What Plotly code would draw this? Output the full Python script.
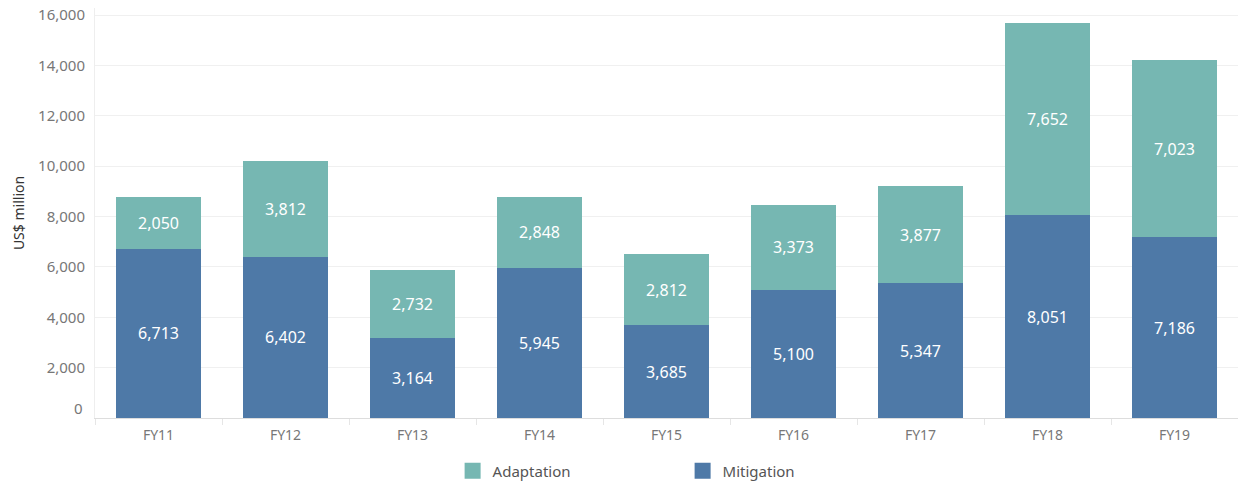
import plotly.graph_objects as go

years = ["FY11", "FY12", "FY13", "FY14", "FY15", "FY16", "FY17", "FY18", "FY19"]
mitigation = [6713, 6402, 3164, 5945, 3685, 5100, 5347, 8051, 7186]
adaptation = [2050, 3812, 2732, 2848, 2812, 3373, 3877, 7652, 7023]
y_ticks = list(range(0, 16001, 2000))

FONT = "Noto Sans"
C_MIT = "#4E79A7"
C_ADA = "#76B7B2"

fig = go.Figure()
fig.add_trace(go.Bar(
    x=years, y=mitigation, name="Mitigation", marker=dict(color=C_MIT, line=dict(width=0)),
    text=[f"{v:,}" for v in mitigation], textposition="inside",
    insidetextanchor="middle", textfont=dict(color="white", size=16, family=FONT),
    showlegend=False,
))
fig.add_trace(go.Bar(
    x=years, y=adaptation, name="Adaptation", marker=dict(color=C_ADA, line=dict(width=0)),
    text=[f"{v:,}" for v in adaptation], textposition="inside",
    insidetextanchor="middle", textfont=dict(color="white", size=16, family=FONT),
    showlegend=False,
))
# legend entries with larger square swatches
for name, col in [("Adaptation", C_ADA), ("Mitigation", C_MIT)]:
    fig.add_trace(go.Scatter(
        x=[None], y=[None], mode="markers", name=name,
        marker=dict(symbol="square", size=17, color=col), hoverinfo="skip",
    ))

fig.update_layout(
    width=1238, height=483,
    barmode="stack", bargap=0.335,
    plot_bgcolor="white", paper_bgcolor="white",
    margin=dict(l=95, r=0, t=8, b=65, autoexpand=False),
    font=dict(family=FONT, color="#777777", size=14),
    uniformtext=dict(mode="show", minsize=10),
    legend=dict(
        orientation="h", traceorder="normal",
        xref="container", x=0.3656, xanchor="left",
        yref="container", y=0.0248, yanchor="middle",
        entrywidth=185, entrywidthmode="pixels", itemsizing="trace",
        font=dict(size=15, color="#555555", family=FONT),
    ),
    xaxis=dict(
        showgrid=False, ticks="outside", tickson="boundaries", ticklen=6,
        tickcolor="#e6e6e6", showline=True, linecolor="#dddddd",
        tickfont=dict(size=14, color="#777777"), automargin=False,
        ticklabelstandoff=4,
    ),
    yaxis=dict(
        range=[0, 16280], tickvals=y_ticks,
        ticktext=["" if v == 0 else f"{v:,}" for v in y_ticks],
        showgrid=True, gridcolor="#f0f0f0", zeroline=False,
        showline=True, linecolor="#eeeeee", automargin=False,
        title=dict(text="US$ million", font=dict(size=14, color="#333333"), standoff=10),
        tickfont=dict(size=15, color="#777777"),
        ticklabelstandoff=6, ticklabeloverflow="allow",
    ),
)
# the zero label sits slightly above the baseline in the original
fig.add_annotation(
    x=0, xref="paper", xanchor="right", xshift=-10,
    y=y_ticks[0], yref="y", yanchor="middle", yshift=10,
    text="0", showarrow=False, font=dict(size=15, color="#777777", family=FONT),
)

# remove the default page margin so the figure fills the window exactly
fig.write_html(
    "out.html",
    config={"displayModeBar": False},
    post_script="document.body.style.margin='0';",
)
